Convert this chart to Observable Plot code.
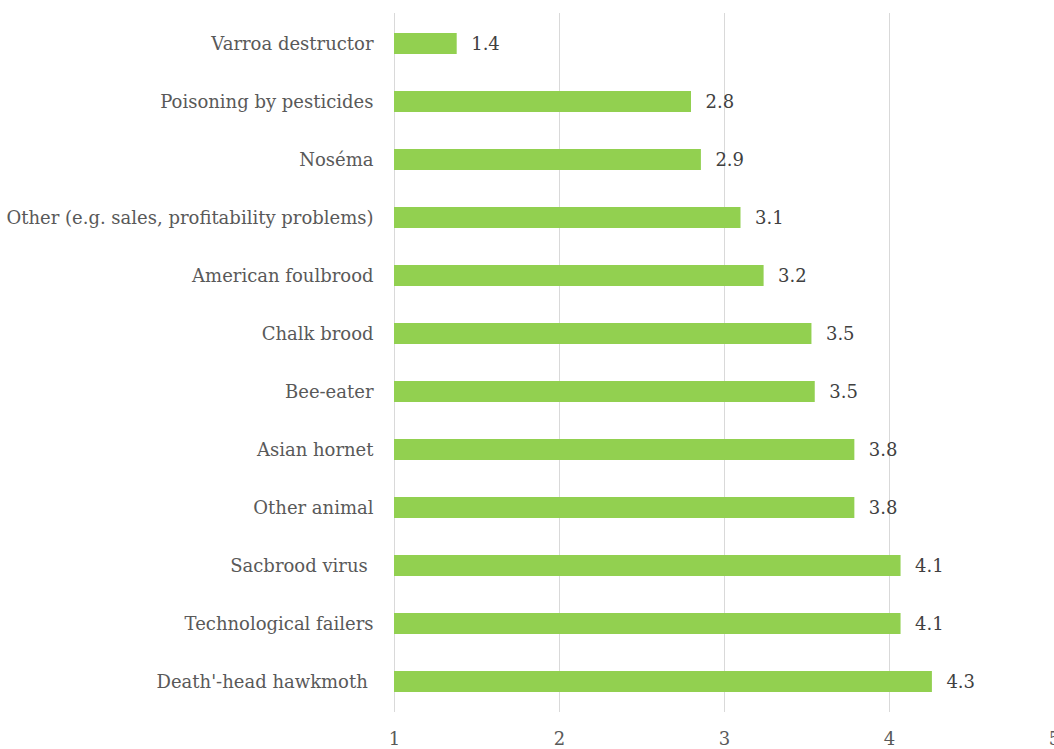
<!DOCTYPE html>
<html><head><meta charset="utf-8">
<script src="https://cdn.jsdelivr.net/npm/d3@7"></script>
<script src="https://cdn.jsdelivr.net/npm/@observablehq/plot@0.6"></script>
<style>body{margin:0;background:#fff} svg text{white-space:pre}</style>
</head><body><div id="chart"></div>
<script>
const categories = [
  "Varroa destructor",
  "Poisoning by pesticides",
  "Noséma",
  "Other (e.g. sales, profitability problems)",
  "American foulbrood",
  "Chalk brood",
  "Bee-eater",
  "Asian hornet",
  "Other animal",
  "Sacbrood virus ",
  "Technological failers",
  "Death'-head hawkmoth "
];
const values = [1.38, 2.80, 2.86, 3.10, 3.24, 3.53, 3.55, 3.79, 3.79, 4.07, 4.07, 4.26];
const valueLabels = ["1.4", "2.8", "2.9", "3.1", "3.2", "3.5", "3.5", "3.8", "3.8", "4.1", "4.1", "4.3"];
const xTicks = [1, 2, 3, 4, 5];

const data = categories.map((c, i) => ({category: c, value: values[i], label: valueLabels[i]}));

const chart = Plot.plot({
  width: 1054, height: 749,
  marginLeft: 394, marginRight: 0, marginTop: 13, marginBottom: 37,
  style: {fontFamily: "DejaVu Serif", fontSize: "18px", color: "#595959", background: "#fff", overflow: "visible"},
  x: {domain: [1, 5], label: null},
  y: {domain: categories, paddingInner: 0.64, paddingOuter: 0.32, label: null},
  marks: [
    Plot.gridX(xTicks, {stroke: "#d9d9d9", strokeOpacity: 1}),
    Plot.barX(data, {x1: 1, x2: "value", y: "category", fill: "#92d050"}),
    Plot.text(data, {x: "value", y: "category", text: "label", textAnchor: "start", dx: 14, fill: "#404040"}),
    Plot.axisX(xTicks, {anchor: "bottom", tickSize: 0, tickPadding: 20, tickFormat: "d", label: null}),
    Plot.axisY({tickSize: 0, tickPadding: 21, label: null})
  ]
});
document.getElementById("chart").appendChild(chart);
</script>
</body></html>
